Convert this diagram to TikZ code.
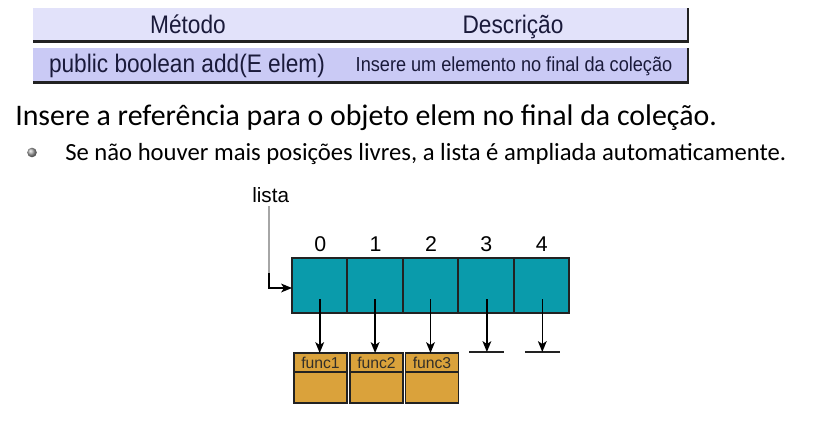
\documentclass[tikz,border=0pt]{standalone}
\usepackage{fontspec}
\setmainfont{Liberation Sans}
\newfontfamily\calib{Carlito}
\usetikzlibrary{calc,shadings}
\newcommand\pxu{0.75pt}
\newcommand\tall[1]{\scalebox{1}[1.12]{#1}}
\definecolor{hdrbg}{HTML}{E2E2FA}
\definecolor{rowbg}{HTML}{CACAF5}
\definecolor{tabtxt}{HTML}{1A1A3A}
\definecolor{teal}{HTML}{0A9BAB}
\definecolor{funcor}{HTML}{DAA23B}
\definecolor{edge}{HTML}{222222}
\begin{document}
\begin{tikzpicture}[x=0.75pt,y=-0.75pt,
  tabrow/.style={anchor=north west,inner sep=0,outer sep=0,minimum width={655*\pxu},minimum height={34*\pxu}},
  darkline/.style={draw=edge,line width=1.6pt},
  tabtext/.style={inner sep=0,text=tabtxt,anchor=base},
  cell/.style={draw=edge,fill=teal,line width=1.4pt,minimum width={55.4*\pxu},minimum height={55*\pxu},inner sep=0,outer sep=0},
  idx/.style={inner sep=0,anchor=base,font=\fontsize{16pt}{18pt}\selectfont},
  funcbox/.style={draw=edge,fill=funcor,line width=1.1pt,minimum width={53*\pxu},minimum height={50*\pxu},inner sep=0,outer sep=0},
  functxt/.style={inner sep=0,text=black!85!olive,font=\fontsize{11.8pt}{13pt}\selectfont},
  ptr/.style={draw=black,line width=1.2pt},
  tip/.style={fill=black},
  ground/.style={draw=edge,line width=1.3pt}
]
\useasboundingbox (0,0) rectangle (814,422);
% table
\node[tabrow,fill=hdrbg,minimum height={33.5*\pxu}] (hdr) at (33,8) {};
\draw[darkline] (hdr.south west) -- (hdr.south east) -- (hdr.north east);
\node[tabrow,fill=rowbg,minimum height={35*\pxu}] (row) at (33,47.5) {};
\draw[darkline] (row.south west) -- (row.south east) -- (row.north east);
\node[tabtext,font=\fontsize{17pt}{20pt}\selectfont] (m) at (188,33) {\tall{Método}};
\node[tabtext,font=\fontsize{17pt}{20pt}\selectfont] (d) at (513,33) {\tall{Descrição}};
\node[tabtext,font=\fontsize{17pt}{20pt}\selectfont] (sig) at (187,72) {\tall{public boolean add(E elem)}};
\node[tabtext,font=\fontsize{13.6pt}{16pt}\selectfont] (desc) at (514,71) {\tall{Insere um elemento no final da coleção}};
% text lines
\node[inner sep=0,anchor=base west,font=\calib\fontsize{22.4pt}{26pt}\selectfont] (l1) at (15,125) {Insere a referência para o objeto elem no final da coleção.};
\shade[ball color=gray!70] (32,152.5) circle (4.8);
\node[inner sep=0,anchor=base west,font=\calib\fontsize{18.5pt}{21pt}\selectfont] (l2) at (65,160) {Se não houver mais posições livres, a lista é ampliada automaticamente.};
% array
\node[inner sep=0,anchor=base west,font=\fontsize{15.5pt}{18pt}\selectfont] (lista) at (252,202) {lista};
\foreach \i in {0,...,4}{
  \node[cell] (c\i) at ({292+27.7+55.4*\i},285.5) {};
  \node[idx] (n\i) at ({292+27.7+55.4*\i+0.5},251) {\i};
}
\coordinate (lt) at (269,206);
\coordinate (lc) at (269,288);
\coordinate (le) at (c0.west |- lc);
\draw[gray!70,line width=1.2pt] (lt) -- (269,274);
\draw[ptr] (269,273) -- (lc) -- ($(le)+(-5,0)$);
\fill[tip] (le) -- ++(-11,-4.5) -- ++(3,4.5) -- ++(-3,4.5) -- cycle;
% func boxes
\foreach \i/\x in {1/320.5,2/376.5,3/432}{
  \node[funcbox] (f\i) at (\x,378) {};
  \draw[edge,line width=1.1pt] ($(f\i.north west)+(0,19)$) -- ($(f\i.north east)+(0,19)$);
  \node[functxt] (ft\i) at ($(f\i.north)+(0,9.5)$) {func\i};
}
\foreach \c/\t in {c0/f1,c1/f2,c2/f3}{
  \coordinate (e\c) at (\c.center |- \t.north);
  \draw[ptr] ($(\c.center)+(0,13.5)$) -- ($(e\c)+(0,-5)$);
  \fill[tip] (e\c) -- ++(-4.5,-11) -- ++(4.5,3) -- ++(4.5,-3) -- cycle;
}
\foreach \i in {3,4}{
  \coordinate (g\i) at ($(c\i.center)+(1,66.5)$);
  \draw[ground] ($(g\i)+(-17.5,0)$) -- ($(g\i)+(17.5,0)$);
  \draw[ptr] ($(c\i.center)+(1,13.5)$) -- ($(g\i)+(0,-5)$);
  \fill[tip] (g\i) -- ++(-4.5,-11) -- ++(4.5,3) -- ++(4.5,-3) -- cycle;
}
\end{tikzpicture}
\end{document}
